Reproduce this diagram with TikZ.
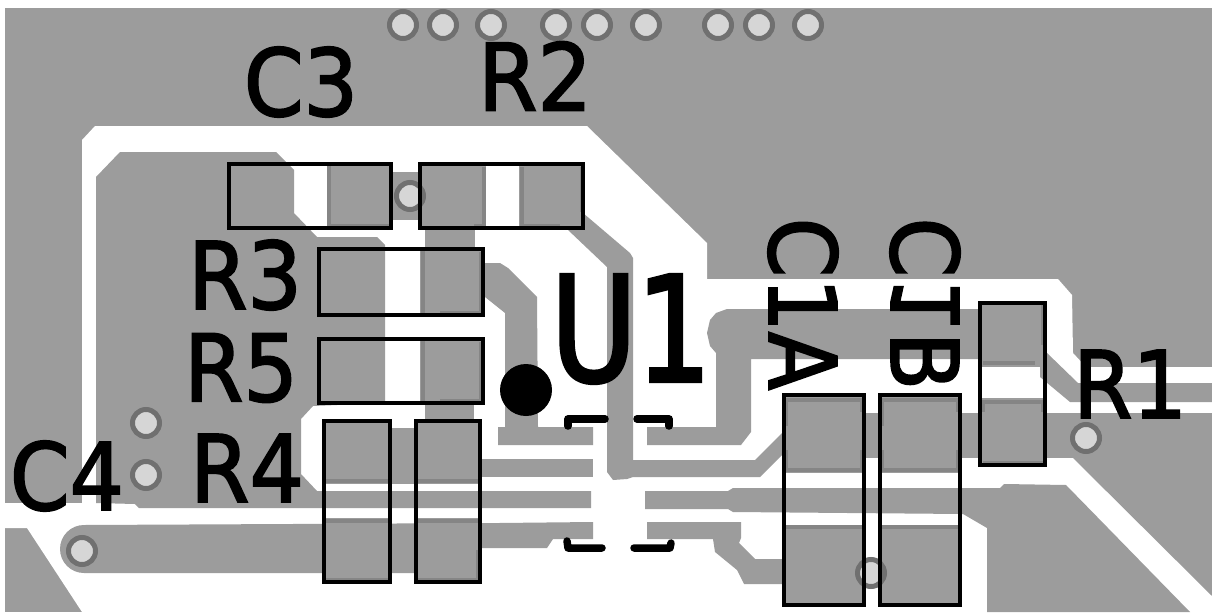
\documentclass[tikz,border=0pt]{standalone}
\usepackage{fontspec}
\newfontfamily\silkfont[FakeStretch=0.92,FakeBold=2]{DejaVu Sans}
\newfontfamily\silkbigfont[FakeStretch=0.8,FakeBold=2.6]{DejaVu Sans}
\definecolor{cugray}{HTML}{9C9C9C}
\definecolor{cuedge}{HTML}{858585}
\definecolor{viaring}{HTML}{707070}
\definecolor{viahole}{HTML}{D6D6D6}
\tikzset{
  copper/.style={fill=cugray},
  padedge/.style={draw=cuedge,line width=4},
  partbox/.style={draw=black,line width=3.5,fill=none},
  silk/.style={draw=black,line width=7.5,line cap=round,line join=round},
  via/.style={draw=viaring,fill=viahole,line width=5},
  reflabel/.style={font=\silkfont\fontsize{93}{93}\selectfont,inner sep=0,text=black},
}
\begin{document}
\begin{tikzpicture}[x=1pt,y=-1pt]
\useasboundingbox (0,0) rectangle (1212,613);
% board
\fill[copper] (5,8) rectangle (1212,612);
% clearance
\fill[white] (5,503) -- (82,503) -- (82,140) -- (95,126) -- (587,126) -- (707,243)
      -- (707,279) -- (1058,279) -- (1072,295) -- (1073,353) -- (1086,367) -- (1212,367)
      -- (1212,612) -- (82,612) -- (27,528) -- (5,528) -- cycle;
% left pour
\fill[copper] (120,152) -- (276,152) -- (294,170) -- (294,213) -- (317,237) -- (377,237)
      -- (385,245) -- (385,403) -- (313,406) -- (301,419) -- (301,474) -- (317,491)
      -- (591,491) -- (591,508) -- (139,508) -- (135,504) -- (96,503) -- (96,177) -- cycle;
% right pour
\fill[copper] (865,413) rectangle (1212,458);
\fill[copper] (1073,458) -- (1212,458) -- (1212,596) -- cycle;
\fill[copper] (1212,383) -- (1078,383) -- (1047,353) -- (1040,353) -- (1040,377)
      -- (1070,402) -- (1212,402) -- cycle;
% traces round U1
\fill[copper] (647,427) -- (716,427) -- (716,353) -- (710,346) -- (707,333) -- (710,320)
      -- (716,313) -- (727,309) -- (985,309) -- (985,359) -- (751,359) -- (751,432)
      -- (741,445) -- (647,445) -- cycle;
\fill[copper] (568,230) -- (583,213) -- (630,253) -- (633,258) -- (633,460) -- (755,460)
      -- (782,433) -- (782,455) -- (760,477) -- (633,477) -- (627,479) -- (613,480)
      -- (607,472) -- (607,267) -- cycle;
\fill[copper] (483,263) -- (500,263) -- (508,268) -- (537,297) -- (538,427) -- (593,427)
      -- (593,445) -- (498,445) -- (498,427) -- (505,427) -- (505,313) -- (485,297) -- cycle;
\fill[copper] (391,428) rectangle (415,484);
\fill[copper] (415,459) rectangle (593,477);
\fill[copper] (645,491) -- (728,491) -- (733,488) -- (1000,488) -- (1004,484) -- (1066,485)
      -- (1190,612) -- (987,612) -- (987,528) -- (963,514) -- (733,512) -- (728,509)
      -- (645,509) -- cycle;
\fill[copper] (647,522) -- (741,522) -- (741,538) -- (739,543) -- (755,559) -- (782,559)
      -- (782,584) -- (744,584) -- (737,570) -- (715,552) -- (713,539) -- (647,539) -- cycle;
\fill[copper] (84,525) -- (499,523) -- (593,522) -- (593,539) -- (553,539) -- (547,548)
      -- (481,548) -- (415,573) -- (84,573) arc (90:270:24) -- cycle;
\fill[copper] (392,172) rectangle (420,220);
\fill[copper] (425,228) rectangle (475,250);
\fill[copper] (425,404) rectangle (474,421);
% pads
\foreach \xa/\ya/\xb/\yb in {327/165/390/227,419/165/486/227,519/165/584/227,
      420/250/483/315,420/340/483/403,
      323/420/391/484,415/420/481/484,323/518/391/583,415/518/481/583,
      782/394/865/473,878/394/961/473,782/525/865/606,878/525/961/606,
      979/302/1046/367,979/398/1046/466}
  \fill[copper] (\xa,\ya) rectangle (\xb,\yb);
% pad edges
\draw[padedge] (329,165) -- (329,226) -- (389,226);
\draw[padedge] (484,167) -- (484,226) -- (474,226);
\draw[padedge] (522,167) -- (522,226) -- (560,226);
\draw[padedge] (582,167) -- (582,212);
\draw[padedge] (423,250) -- (423,313) (481,252) -- (481,313) -- (440,313);
\draw[padedge] (423,340) -- (423,401) (481,342) -- (481,401) -- (440,401);
\foreach \xa/\xb in {326/388,417/479}{
  \draw[padedge] (\xa,481) -- (\xb,481);
  \draw[padedge] (\xa,521) -- (\xb,521);
  \draw[padedge] (\xa,580) -- (\xb,580);
}
\draw[padedge] (478,550) -- (478,580);
\foreach \xa/\xb in {786/862,882/958}{
  \draw[padedge] (\xa,426) -- (\xa,400) -- (\xb,400) -- (\xb,412);
  \draw[padedge] (\xa,450) -- (\xa,470) -- (\xb,470) -- (\xb,450);
  \draw[padedge] (\xa,527) -- (\xb,527);
}
\draw[padedge] (983,363) -- (1035,363);
\draw[padedge] (1043,305) -- (1043,345);
\draw[padedge] (983,412) -- (983,402) -- (1043,402) -- (1043,412);
\draw[padedge] (983,463) -- (1043,463);
% vias
\foreach \vx in {403,443,491,556,597,646,718,759,808}
  \draw[via] (\vx,25) circle (13.5);
\foreach \vx/\vy in {410/196,146/423,146/475,82/551,1086/438,871/573}
  \draw[via] (\vx,\vy) circle (13.5);
% part outlines
\foreach \xa/\ya/\xb/\yb in {229/164/391/228,420/164/583/228,
      319/249/483/315,319/339/483/403,
      324/421/390/582,416/421/480/582,
      784/395/864/605,880/395/960/605,
      980/303/1045/465}
  \draw[partbox] (\xa,\ya) rectangle (\xb,\yb);
% U1 corners and pin one mark
\draw[silk] (568,426) -- (568,419) -- (605,419);
\draw[silk] (637,419) -- (669,419) -- (669,426);
\draw[silk] (567,541) -- (568,548) -- (602,548);
\draw[silk] (634,548) -- (670,548) -- (671,543);
\fill[black] (526,390) circle (26);
% reference labels
\node[reflabel] (labelC3) at (301,82) {C3};
\node[reflabel] (labelR2) at (535,76) {R2};
\node[reflabel] (labelR3) at (245,275) {R3};
\node[reflabel] (labelR5) at (241,368) {R5};
\node[reflabel] (labelR4) at (247,468) {R4};
\node[reflabel] (labelC4) at (67,476) {C4};
\node[reflabel] (labelR1) at (1130,384) {R1};
\node[reflabel,font=\silkbigfont\fontsize{146}{146}\selectfont] (labelU1) at (631,329) {U1};
\node[reflabel,rotate=-90] (labelC1A) at (803,304) {C1A};
\node[reflabel,rotate=-90] (labelC1B) at (925,304) {C\raisebox{\depth}{\scalebox{1}[-1]{1}}B};
\end{tikzpicture}
\end{document}
